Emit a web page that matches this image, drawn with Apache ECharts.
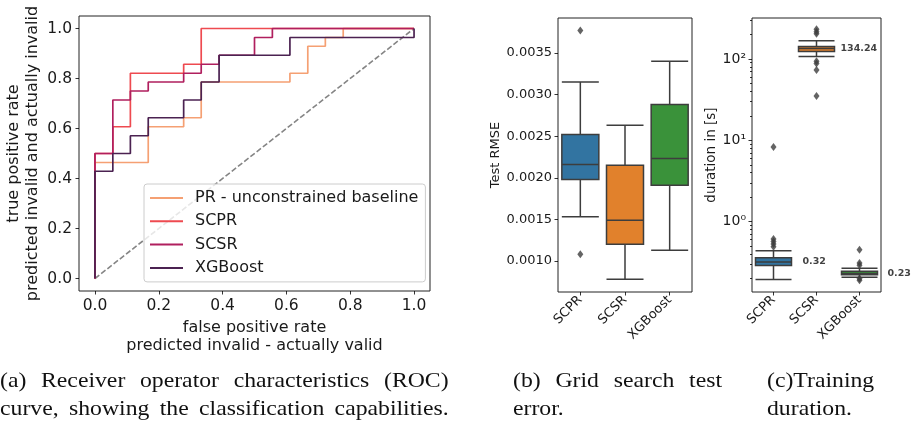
<!DOCTYPE html>
<html>
<head>
<meta charset="utf-8">
<script src="https://cdn.jsdelivr.net/npm/echarts@6/dist/echarts.min.js"></script>
<style>
  html, body { margin: 0; padding: 0; background: #fff; }
  #wrap { position: relative; width: 915px; height: 422px; overflow: hidden; }
  #chart { position: absolute; left: 0; top: 0; width: 915px; height: 422px; }
  .cap { position: absolute; font-family: "Liberation Serif", serif; font-size: 21px; color: #111;
         line-height: 28px; white-space: nowrap; transform: scaleX(1.13); transform-origin: 0 0; }
  .just { text-align: justify; text-align-last: justify; }
</style>
</head>
<body>
<div id="wrap">
  <div id="chart"></div>
  <div class="cap just" style="left:0px;top:366px;width:397px;">(a) Receiver operator characteristics (ROC)</div>
  <div class="cap just" style="left:0px;top:394px;width:397px;">curve, showing the classification capabilities.</div>
  <div class="cap just" style="left:513px;top:366px;width:185px;">(b) Grid search test</div>
  <div class="cap" style="left:513px;top:394px;">error.</div>
  <div class="cap" style="left:767px;top:366px;">(c)Training</div>
  <div class="cap" style="left:767px;top:394px;">duration.</div>
</div>
<script>
// ROC curves (corner points, drawn as steps)
const fprPR = [0, 0, 0.167, 0.278, 0.333, 0.611, 0.667, 0.722, 0.778, 1.0];
const tprPR = [0, 0.464, 0.607, 0.643, 0.786, 0.821, 0.929, 0.964, 1.0, 1.0];
const fprSCPR = [0, 0, 0.056, 0.111, 0.278, 0.333, 1.0];
const tprSCPR = [0, 0.5, 0.607, 0.821, 0.857, 1.0, 1.0];
const fprSCSR = [0, 0, 0.056, 0.111, 0.167, 0.278, 0.333, 0.389, 0.5, 0.556, 1.0];
const tprSCSR = [0, 0.5, 0.714, 0.75, 0.786, 0.821, 0.857, 0.893, 0.964, 1.0, 1.0];
const fprXGB = [0, 0, 0.056, 0.111, 0.167, 0.278, 0.333, 0.389, 0.611, 1.0];
const tprXGB = [0, 0.429, 0.5, 0.571, 0.643, 0.714, 0.786, 0.893, 0.964, 1.0];
const rocNames = ["PR - unconstrained baseline", "SCPR", "SCSR", "XGBoost"];
const rocColors = ["#f5a073", "#ee4a50", "#b01f5e", "#4b2251"];
const rocTicks = [0, 0.2, 0.4, 0.6, 0.8, 1.0];

// box plots
const models = ["SCPR", "SCSR", "XGBoost"];
const boxColors = ["#3274a1", "#e1812c", "#3a923a"];
// [low whisker, Q1, median, Q3, high whisker]
const rmseBoxes = [
  [0.00153, 0.00198, 0.00216, 0.00252, 0.00315],
  [0.00078, 0.00120, 0.00149, 0.00215, 0.00263],
  [0.00113, 0.00191, 0.00223, 0.00288, 0.00340],
];
const rmseOutliers = [[0, 0.00377], [0, 0.00108]];
const rmseTicks = [0.001, 0.0015, 0.002, 0.0025, 0.003, 0.0035];

const durationBoxes = [
  [0.195, 0.288, 0.32, 0.36, 0.44],
  [107, 124, 134.24, 142, 168],
  [0.207, 0.223, 0.23, 0.245, 0.267],
];
const durationOutliers = [
  [0, 0.61], [0, 0.57], [0, 0.53], [0, 0.49], [0, 8.3],
  [1, 232], [1, 217], [1, 205], [1, 94], [1, 88], [1, 73], [1, 35],
  [2, 0.45], [2, 0.31], [2, 0.29], [2, 0.2], [2, 0.19],
];
const durationMedians = [0.32, 134.24, 0.23];
const durationDecades = [0, 1, 2];

const chart = echarts.init(document.getElementById("chart"));

const txt = "#1a1a1a";
const font = "'DejaVu Sans', sans-serif";
function tick(len) {
  return { show: true, inside: false, length: len, lineStyle: { color: "#000", width: 0.8 } };
}
function steps(xs, ys) {
  return xs.map((x, i) => [x, ys[i]]);
}
const lg = (v) => Math.log10(v);
const sup = { 0: "\u2070", 1: "\u00b9", 2: "\u00b2" };
const noLine = { show: false, onZero: false };

const minorLog = [];
[-1, 0, 1, 2].forEach((e) => {
  for (let m = 2; m <= 9; m++) {
    const p = Math.log10(m) + e;
    if (p > -0.865 && p < 2.504) minorLog.push(p);
  }
});

const option = {
  animation: false,
  textStyle: { fontFamily: font },
  grid: [
    { left: 79, top: 16, width: 351, height: 275, show: true, borderColor: "#222", borderWidth: 1, backgroundColor: "transparent" },
    { left: 558, top: 18, width: 134, height: 274, show: true, borderColor: "#222", borderWidth: 1, backgroundColor: "transparent" },
    { left: 752, top: 18, width: 129, height: 274, show: true, borderColor: "#222", borderWidth: 1, backgroundColor: "transparent" },
  ],
  legend: {
    data: rocNames,
    orient: "vertical",
    left: 144,
    top: 184,
    padding: [6, 7, 6, 6],
    itemWidth: 33,
    itemHeight: 2,
    itemGap: 7.3,
    icon: "rect",
    backgroundColor: "rgba(255,255,255,0.8)",
    borderColor: "#cccccc",
    borderWidth: 1,
    borderRadius: 3,
    textStyle: { fontFamily: font, fontSize: 16, lineHeight: 16, color: txt, padding: [0, 0, 0, 7] },
  },
  xAxis: [
    {
      type: "value", gridIndex: 0, min: -0.05, max: 1.05,
      name: "false positive rate\npredicted invalid - actually valid",
      nameLocation: "middle", nameGap: 27,
      nameTextStyle: { fontFamily: font, fontSize: 16, lineHeight: 18, color: txt },
      axisLine: noLine, splitLine: { show: false },
      axisTick: Object.assign(tick(3.5), { customValues: rocTicks }),
      axisLabel: { customValues: rocTicks, fontFamily: font, fontSize: 15.5, color: txt, margin: 7, formatter: (v) => v.toFixed(1) },
    },
    {
      type: "category", gridIndex: 1, data: models,
      axisLine: noLine, splitLine: { show: false },
      axisTick: Object.assign(tick(3.5), { alignWithLabel: true }),
      axisLabel: { rotate: 45, fontFamily: font, fontSize: 13, color: txt, margin: 6 },
    },
    {
      type: "category", gridIndex: 2, data: models,
      axisLine: noLine, splitLine: { show: false },
      axisTick: Object.assign(tick(3.5), { alignWithLabel: true }),
      axisLabel: { rotate: 45, fontFamily: font, fontSize: 13, color: txt, margin: 6 },
    },
  ],
  yAxis: [
    {
      type: "value", gridIndex: 0, min: -0.05, max: 1.05,
      name: "true positive rate\npredicted invalid and actually invalid",
      nameLocation: "middle", nameGap: 37,
      nameTextStyle: { fontFamily: font, fontSize: 16, lineHeight: 19, color: txt },
      axisLine: noLine, splitLine: { show: false },
      axisTick: Object.assign(tick(3.5), { customValues: rocTicks }),
      axisLabel: { customValues: rocTicks, fontFamily: font, fontSize: 15.5, color: txt, margin: 7, formatter: (v) => v.toFixed(1) },
    },
    {
      type: "value", gridIndex: 1, min: 0.000627, max: 0.00392,
      name: "Test RMSE", nameLocation: "middle", nameGap: 56,
      nameTextStyle: { fontFamily: font, fontSize: 13, color: txt },
      axisLine: noLine, splitLine: { show: false },
      axisTick: Object.assign(tick(3.5), { customValues: rmseTicks }),
      axisLabel: { customValues: rmseTicks, fontFamily: font, fontSize: 13, color: txt, margin: 6, formatter: (v) => v.toFixed(4) },
    },
    {
      type: "value", gridIndex: 2, min: -0.865, max: 2.504,
      name: "duration in [s]", nameLocation: "middle", nameGap: 29,
      nameTextStyle: { fontFamily: font, fontSize: 13.5, color: txt },
      axisLine: noLine, splitLine: { show: false },
      axisTick: Object.assign(tick(3.5), { customValues: durationDecades }),
      axisLabel: { customValues: durationDecades, fontFamily: font, fontSize: 14, color: txt, margin: 6, formatter: (v) => "10" + sup[Math.round(v)] },
    },
    {
      type: "value", gridIndex: 2, min: -0.865, max: 2.504, position: "left",
      axisLine: noLine, splitLine: { show: false },
      axisTick: Object.assign(tick(2), { customValues: minorLog }),
      axisLabel: { show: false },
    },
  ],
  series: [
    {
      name: "diag", type: "line", xAxisIndex: 0, yAxisIndex: 0, data: [[0, 0], [1, 1]],
      symbol: "none", silent: true, z: 1,
      lineStyle: { color: "#858585", width: 1.6, type: [5.5, 2.4] },
    },
    ...[[fprPR, tprPR], [fprSCPR, tprSCPR], [fprSCSR, tprSCSR], [fprXGB, tprXGB]].map((c, i) => ({
      name: rocNames[i], type: "line", xAxisIndex: 0, yAxisIndex: 0, step: "end",
      data: steps(c[0], c[1]), symbol: "none", z: 2 + i,
      color: rocColors[i],
      lineStyle: { color: rocColors[i], width: 1.7 },
    })),
    {
      name: "rmse", type: "boxplot", xAxisIndex: 1, yAxisIndex: 1, boxWidth: [37, 37],
      data: rmseBoxes.map((b, i) => ({
        value: b,
        itemStyle: { color: boxColors[i], borderColor: "#3d3d3d", borderWidth: 1.5 },
      })),
    },
    {
      name: "rmseOut", type: "scatter", xAxisIndex: 1, yAxisIndex: 1, data: rmseOutliers,
      symbol: "diamond", symbolSize: [6, 8], itemStyle: { color: "#3d3d3d" },
    },
    {
      name: "dur", type: "boxplot", xAxisIndex: 2, yAxisIndex: 2, boxWidth: [36, 36],
      data: durationBoxes.map((b, i) => ({
        value: b.map(lg),
        itemStyle: { color: boxColors[i], borderColor: "#3d3d3d", borderWidth: 1.5 },
      })),
    },
    {
      name: "durOut", type: "scatter", xAxisIndex: 2, yAxisIndex: 2,
      data: durationOutliers.map((o) => [o[0], lg(o[1])]),
      symbol: "diamond", symbolSize: [6, 8], itemStyle: { color: "#3d3d3d" },
    },
    {
      name: "durLabels", type: "scatter", xAxisIndex: 2, yAxisIndex: 2, symbolSize: 0,
      data: durationMedians.map((m, i) => ({
        value: [i, lg(m)],
        label: {
          show: true, position: "right", offset: [[24, 19, 23][i], 0],
          formatter: m.toFixed(2), fontFamily: font, fontSize: 9.5, fontWeight: "bold", color: "#111",
        },
      })),
    },
  ],
};
chart.setOption(option);
</script>
</body>
</html>
